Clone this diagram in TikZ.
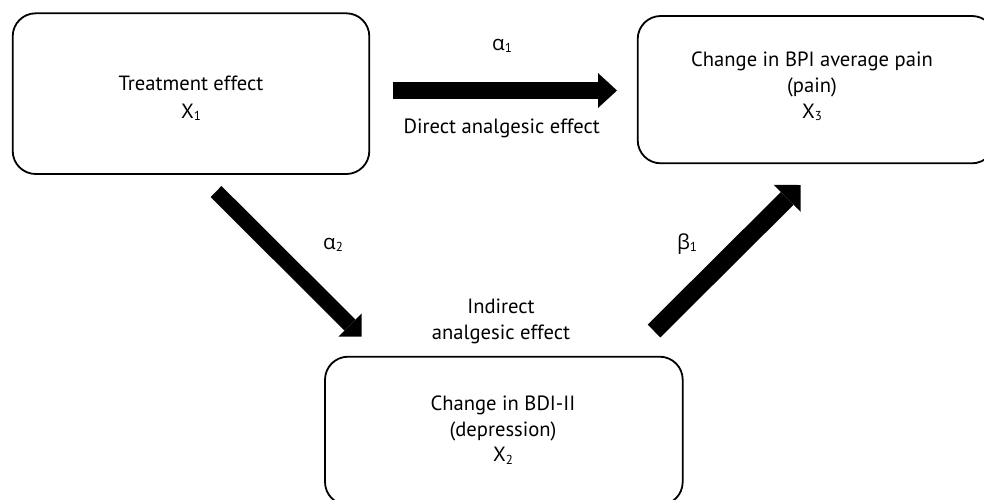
\documentclass[tikz,border=0pt]{standalone}
\usepackage{fontspec}
\setmainfont{PT Sans}
\newfontfamily\grkfont{Open Sans}
\usetikzlibrary{arrows.meta}
\newcommand{\sbs}[1]{\raisebox{-0.25ex}{\fontsize{13}{14}\selectfont #1}}
\begin{document}
\begin{tikzpicture}[x=1pt,y=-1pt,
  box/.style={draw=black, line width=1.8pt, rounded corners=23pt, inner sep=0pt, outer sep=0pt},
  lbl/.style={anchor=base, inner sep=0pt, outer sep=0pt, font=\fontsize{20.6}{23}\selectfont},
  blockarrow/.style n args={3}{line width=#1, -{Triangle[width=#2, length=#3, line width=0pt]}}
]
\clip (0,0) rectangle (984,499);
\fill[white] (0,0) rectangle (984,499);

% boxes
\node[box, minimum width=356.6pt, minimum height=160.7pt] (b1) at (191,93.65) {};
\node[box, minimum width=357.3pt, minimum height=147.3pt] (b3) at (816.35,89.65) {};
\node[box, minimum width=357.7pt, minimum height=148.3pt] (b2) at (503.85,430.85) {};

% box texts
\node[lbl] (t1a) at (191,90.7) {Treatment effect};
\node[lbl] (t1b) at (191,118.3) {X\sbs{1}};
\node[lbl] (t3a) at (812,66.7) {Change in BPI average pain};
\node[lbl] (t3b) at (812,92) {(pain)};
\node[lbl] (t3c) at (812,118.3) {X\sbs{3}};
\node[lbl] (t2a) at (503,410) {Change in BDI-II};
\node[lbl] (t2b) at (503,436) {(depression)};
\node[lbl] (t2c) at (503,461.7) {X\sbs{2}};

% arrow end points
\coordinate (a1s) at (392.7,90.5);
\coordinate (a1e) at (617,90.5);
\coordinate (a2s) at (216,191.5);
\coordinate (a2e) at (361.7,336.7);
\coordinate (b1s) at (654,331);
\coordinate (b1e) at (800.7,185);

\draw[blockarrow={17.6pt}{35pt}{19pt}] (a1s) -- (a1e);
\draw[blockarrow={15.5pt}{33pt}{16.5pt}] (a2s) -- (a2e);
\draw[blockarrow={18pt}{38pt}{19pt}] (b1s) -- (b1e);

% arrow labels
\node[lbl] (la1) at (502,50) {{\grkfont α}\sbs{1}};
\node[lbl] (la2) at (333,249) {{\grkfont α}\sbs{2}};
\node[lbl] (lb1) at (687,249) {{\grkfont β}\sbs{1}};
\node[lbl] (ld) at (501.7,133.3) {Direct analgesic effect};
\node[lbl] (li1) at (501,313) {Indirect};
\node[lbl] (li2) at (501,339) {analgesic effect};
\end{tikzpicture}
\end{document}
